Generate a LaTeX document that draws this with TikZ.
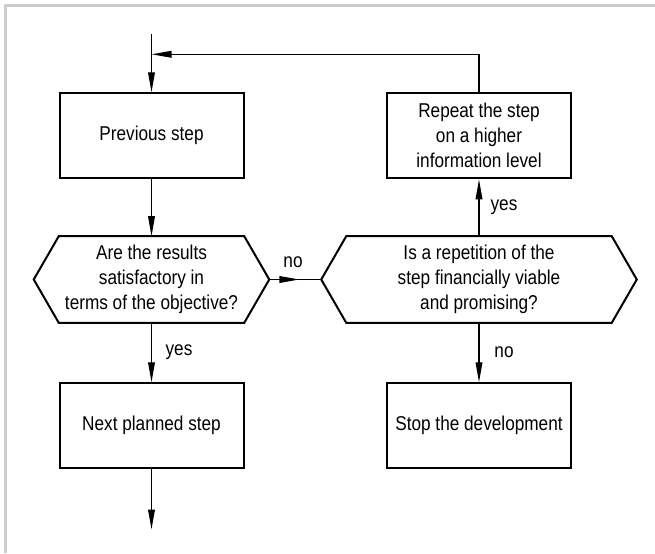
\documentclass[tikz,border=0pt]{standalone}
\usepackage{fontspec}
\setmainfont{Liberation Sans}[FakeStretch=0.86]
\usetikzlibrary{arrows.meta,calc,decorations.markings}

\begin{document}
\begin{tikzpicture}[
  x=0.75pt, y=-0.75pt,
  font=\fontsize{15pt}{18.75pt}\selectfont,
  stepbox/.style={draw, line width=1.5pt, rectangle, align=center,
    minimum width=138pt, minimum height=63.75pt, inner sep=0pt},
  askbox/.style={rectangle, align=center, minimum height=64.5pt, inner sep=0pt},
  hexline/.style={line width=1.5pt, line join=miter},
  tip/.tip={Triangle[length=15pt, width=5pt]},
  flow/.style={line width=1pt, -tip},
  midflow/.style={line width=1pt, postaction={decorate},
    decoration={markings, mark=at position 0.58 with {\arrow{tip}}}},
  lbl/.style={inner sep=0pt}
]
% canvas and the light frame along the top and left edges
\useasboundingbox (0,0) rectangle (655,553);
\fill[black!20] (4,4) rectangle (655,7);
\fill[black!20] (4,4) rectangle (7,553);

% process steps
\node[stepbox] (prev)   at (151.5,135.8) {Previous step};
\node[stepbox] (repeat) at (479,135.8)   {Repeat the step\\on a higher\\information level};
\node[stepbox] (next)   at (151.5,425.8) {Next planned step};
\node[stepbox] (stop)   at (479,425.8)   {Stop the development};

% decisions (hexagons drawn around text nodes)
\node[askbox, minimum width=138.75pt] (q1) at (151.5,279.5)
  {Are the results\\satisfactory in\\terms of the objective?};
\node[askbox, minimum width=198.75pt] (q2) at (479,279.5)
  {Is a repetition of the\\step financially viable\\and promising?};
\coordinate (q1l) at ($(q1.west)+(-25,0)$);
\coordinate (q1r) at ($(q1.east)+(25,0)$);
\coordinate (q2l) at ($(q2.west)+(-25,0)$);
\coordinate (q2r) at ($(q2.east)+(25,0)$);
\draw[hexline] (q1.north west) -- (q1.north east) -- (q1r) -- (q1.south east)
  -- (q1.south west) -- (q1l) -- cycle;
\draw[hexline] (q2.north west) -- (q2.north east) -- (q2r) -- (q2.south east)
  -- (q2.south west) -- (q2l) -- cycle;

% loose ends of the flow
\coordinate (in)   at (151.5,34);
\coordinate (join) at (151.5,54.3);
\coordinate (out)  at (151.5,529.5);

% connectors
\draw[line width=1pt] (in) -- (join);
\draw[flow] (join) -- (prev.north);
\draw[flow] (repeat.north) |- (join);
\draw[flow] (prev.south) -- (q1.north);
\draw[flow] (q1.south) -- (next.north);
\draw[flow] (next.south) -- (out);
\draw[midflow] (q1r) -- (q2l);
\draw[flow] (q2.north) -- (repeat.south);
\draw[flow] (q2.south) -- (stop.north);

% branch labels
\node[lbl] (lno1)  at (293,262)   {no};
\node[lbl] (lyes2) at (504,207)   {yes};
\node[lbl] (lyes1) at (179,352.3) {yes};
\node[lbl] (lno2)  at (504,352.3) {no};
\end{tikzpicture}
\end{document}
